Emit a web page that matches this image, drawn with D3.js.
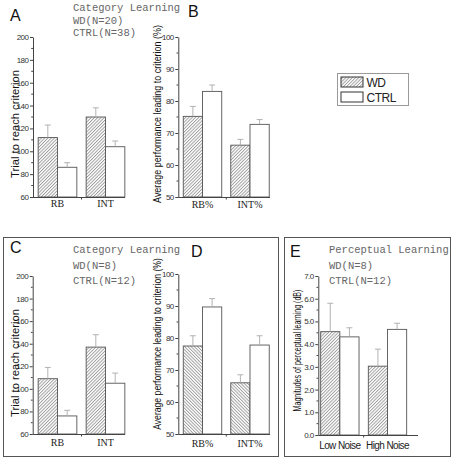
<!DOCTYPE html>
<html><head><meta charset="utf-8">
<script src="https://cdn.jsdelivr.net/npm/d3@7"></script>
<style>body{margin:0;background:#fff}svg{display:block}</style>
</head><body>
<script>
// ---------- data ----------
const series = ["WD", "CTRL"];
const catsCat = ["RB", "INT"];
const catsPct = ["RB%", "INT%"];
const catsNoise = ["Low Noise", "High Noise"];

const aWD = [112, 130], aWDerr = [11, 8], aCTRL = [86, 104], aCTRLerr = [4, 5];
const bWD = [75.2, 66.2], bWDerr = [3.1, 1.8], bCTRL = [83, 72.7], bCTRLerr = [2, 1.5];
const cWD = [109, 137], cWDerr = [10, 11], cCTRL = [76, 105], cCTRLerr = [5, 9];
const dWD = [77.5, 66], dWDerr = [3.2, 2.5], dCTRL = [89.7, 77.8], dCTRLerr = [2.6, 2.9];
const eWD = [4.55, 3.03], eWDerr = [1.25, 0.75], eCTRL = [4.32, 4.65], eCTRLerr = [0.4, 0.27];

const ticksTrial = [60, 80, 100, 120, 140, 160, 180, 200];
const ticksPct = [50, 60, 70, 80, 90, 100];
const ticksDB = [0, 1, 2, 3, 4, 5, 6, 7];

const yLabelTrial = "Trial to reach criterion";
const yLabelPct = "Average performance leading to criterion (%)";
const yLabelDB = "Magnitudes of perceptual learning (dB)";

// ---------- drawing ----------
const W = 457, H = 460;
const svg = d3.select("body").append("svg").attr("width", W).attr("height", H);
const defs = svg.append("defs");
const hs = 2.3;
function hatch(id, dir) {
  const p = defs.append("pattern").attr("id", id).attr("patternUnits", "userSpaceOnUse")
    .attr("width", hs).attr("height", hs)
    .attr("patternTransform", "rotate(" + (dir > 0 ? 45 : -45) + ")");
  p.append("rect").attr("width", hs).attr("height", hs).attr("fill", "#fff");
  p.append("line").attr("x1", 0.5).attr("y1", 0).attr("x2", 0.5).attr("y2", hs)
    .attr("stroke", "#8c8c8c").attr("stroke-width", 0.8);
}
hatch("hf", 1);
hatch("hb", -1);

const axisCol = "#444";

function panel(o) {
  const g = svg.append("g");
  const y = d3.scaleLinear().domain(o.dom).range([o.yBot, o.yTop]);
  const step = o.step;
  const x0 = d3.scaleBand().domain(o.cats)
    .range([o.c1 - step / 2, o.c1 + step * (o.cats.length - 0.5)])
    .paddingInner(o.pi).paddingOuter(o.pi / 2);
  const x1 = d3.scaleBand().domain(series).range([0, x0.bandwidth()]);
  const vals = [o.wd, o.ctrl], errs = [o.wdErr, o.ctrlErr];

  series.forEach((s, si) => {
    g.selectAll(null).data(o.cats).enter().append("rect")
      .attr("x", d => x0(d) + x1(s))
      .attr("y", (d, i) => y(vals[si][i]))
      .attr("width", x1.bandwidth())
      .attr("height", (d, i) => o.yBot - y(vals[si][i]))
      .attr("fill", si === 0 ? "url(#" + o.hatch + ")" : "#fff")
      .attr("stroke", "#555").attr("stroke-width", 0.9);
    const eb = g.selectAll(null).data(o.cats).enter().append("g");
    eb.append("line")
      .attr("x1", d => x0(d) + x1(s) + x1.bandwidth() / 2)
      .attr("x2", d => x0(d) + x1(s) + x1.bandwidth() / 2)
      .attr("y1", (d, i) => y(vals[si][i]))
      .attr("y2", (d, i) => y(vals[si][i] + errs[si][i]))
      .attr("stroke", "#aaa").attr("stroke-width", 0.9);
    eb.append("line")
      .attr("x1", d => x0(d) + x1(s) + x1.bandwidth() / 2 - 3)
      .attr("x2", d => x0(d) + x1(s) + x1.bandwidth() / 2 + 3)
      .attr("y1", (d, i) => y(vals[si][i] + errs[si][i]))
      .attr("y2", (d, i) => y(vals[si][i] + errs[si][i]))
      .attr("stroke", "#aaa").attr("stroke-width", 0.9);
  });

  const ax = g.append("g").attr("transform", "translate(" + o.axisX + ",0)")
    .call(d3.axisLeft(y).tickValues(o.ticks).tickSize(3).tickPadding(1.5).tickSizeOuter(0));
  ax.select(".domain").attr("stroke", axisCol);
  ax.selectAll(".tick line").attr("stroke", axisCol);
  ax.selectAll(".tick text").attr("font-family", "Liberation Sans, Arial, sans-serif")
    .attr("font-size", 8).attr("fill", "#333").attr("letter-spacing", -0.5);
  const minor = [];
  for (let i = 0; i < o.ticks.length - 1; i++) minor.push((o.ticks[i] + o.ticks[i + 1]) / 2);
  g.selectAll(null).data(minor).enter().append("line")
    .attr("x1", o.axisX - 1.8).attr("x2", o.axisX)
    .attr("y1", d => y(d)).attr("y2", d => y(d)).attr("stroke", axisCol);

  g.append("line").attr("x1", o.axisX).attr("x2", o.axisEnd)
    .attr("y1", o.yBot + 0.5).attr("y2", o.yBot + 0.5).attr("stroke", axisCol);
  const mid = (x0(o.cats[0]) + x0.bandwidth() + x0(o.cats[1])) / 2;
  g.append("line").attr("x1", mid).attr("x2", mid).attr("y1", o.yBot).attr("y2", o.yBot + 2.5)
    .attr("stroke", axisCol);

  g.selectAll(null).data(o.cats).enter().append("text")
    .attr("x", d => x0(d) + x0.bandwidth() / 2).attr("y", o.catY)
    .attr("text-anchor", "middle")
    .attr("font-family", o.catFont).attr("font-size", o.catSize)
    .attr("letter-spacing", o.catLS || 0)
    .attr("fill", "#222").text(d => d);

  const ycen = (o.yTop + o.yBot) / 2 + (o.yLabOff || 0);
  const yl = g.append("text")
    .attr("text-anchor", "middle").attr("font-family", "Liberation Sans, Arial, sans-serif")
    .attr("font-size", 11.5).attr("fill", "#111")
    .text(o.yLabel);
  const natural = yl.node().getComputedTextLength();
  const sx = o.yLabLen / natural;
  yl.attr("transform", "translate(" + o.yLabX + "," + ycen + ") rotate(-90) scale(" + sx + ",1)");

  g.append("text").attr("x", o.letX).attr("y", o.letY).attr("font-family", "Liberation Sans, Arial, sans-serif")
    .attr("font-size", 16).attr("fill", "#111").text(o.letter);
}

const serif = "Liberation Serif, Times New Roman, serif";
const sans = "Liberation Sans, Arial, sans-serif";

panel({ letter: "A", letX: 10, letY: 21, cats: catsCat, wd: aWD, wdErr: aWDerr, ctrl: aCTRL, ctrlErr: aCTRLerr,
  dom: [60, 200], ticks: ticksTrial, yTop: 37, yBot: 197, axisX: 33, axisEnd: 125, c1: 57.5, step: 48, pi: 0.194,
  hatch: "hf", catY: 207, catFont: serif, catSize: 10, yLabel: yLabelTrial, yLabX: 19, yLabLen: 108, yLabOff: 7 });
panel({ letter: "B", letX: 188, letY: 17, cats: catsPct, wd: bWD, wdErr: bWDerr, ctrl: bCTRL, ctrlErr: bCTRLerr,
  dom: [50, 100], ticks: ticksPct, yTop: 37, yBot: 197, axisX: 178.3, axisEnd: 270, c1: 202.5, step: 47.5, pi: 0.19,
  hatch: "hf", catY: 208, catFont: serif, catSize: 10, yLabel: yLabelPct, yLabX: 161, yLabLen: 178, yLabOff: -3 });
panel({ letter: "C", letX: 10, letY: 253, cats: catsCat, wd: cWD, wdErr: cWDerr, ctrl: cCTRL, ctrlErr: cCTRLerr,
  dom: [60, 200], ticks: ticksTrial, yTop: 276, yBot: 434, axisX: 32.7, axisEnd: 125, c1: 57.5, step: 48, pi: 0.194,
  hatch: "hf", catY: 446, catFont: serif, catSize: 10, yLabel: yLabelTrial, yLabX: 19, yLabLen: 108, yLabOff: 8 });
panel({ letter: "D", letX: 191, letY: 257, cats: catsPct, wd: dWD, wdErr: dWDerr, ctrl: dCTRL, ctrlErr: dCTRLerr,
  dom: [50, 100], ticks: ticksPct, yTop: 274, yBot: 434, axisX: 178.3, axisEnd: 270, c1: 202.5, step: 47.5, pi: 0.19,
  hatch: "hb", catY: 447, catFont: serif, catSize: 10, yLabel: yLabelPct, yLabX: 161, yLabLen: 172, yLabOff: -10 });
panel({ letter: "E", letX: 290, letY: 257, cats: catsNoise, wd: eWD, wdErr: eWDerr, ctrl: eCTRL, ctrlErr: eCTRLerr,
  dom: [0, 7], ticks: ticksDB, yTop: 276, yBot: 435, axisX: 318.3, axisEnd: 418, c1: 339.85, step: 47.65, pi: 0.195,
  hatch: "hf", catY: 449, catFont: sans, catSize: 10, catLS: -0.6, yLabel: yLabelDB, yLabX: 301, yLabLen: 122, yLabOff: -5 });

const mono = "Liberation Mono, Courier New, monospace";
function note(x, y, lines, gap) {
  lines.forEach((t, i) => svg.append("text").attr("x", x).attr("y", y + i * gap)
    .attr("font-family", mono).attr("font-size", 10.5).attr("fill", "#666").text(t));
}
note(73, 11, ["Category Learning", "WD(N=20)", "CTRL(N=38)"], 12.5);
note(73, 253, ["Category Learning", "WD(N=8)", "CTRL(N=12)"], 15.5);
note(329, 253, ["Perceptual Learning", "WD(N=8)", "CTRL(N=12)"], 15.5);

svg.append("rect").attr("x", 3.5).attr("y", 237.5).attr("width", 275).attr("height", 219)
  .attr("fill", "none").attr("stroke", "#555");
svg.append("rect").attr("x", 284.5).attr("y", 237.5).attr("width", 166).attr("height", 219)
  .attr("fill", "none").attr("stroke", "#555");

const leg = svg.append("g");
leg.append("rect").attr("x", 337.5).attr("y", 73.5).attr("width", 71).attr("height", 32)
  .attr("fill", "#fff").attr("stroke", "#999");
series.forEach((s, i) => {
  leg.append("rect").attr("x", 341).attr("y", 77 + i * 15).attr("width", 22).attr("height", 10)
    .attr("fill", i === 0 ? "url(#hf)" : "#fff").attr("stroke", "#333");
  leg.append("text").attr("x", 366.5).attr("y", 86.5 + i * 15).attr("font-family", sans)
    .attr("font-size", 12).attr("letter-spacing", -0.5).attr("fill", "#222").text(s);
});
</script>
</body></html>
